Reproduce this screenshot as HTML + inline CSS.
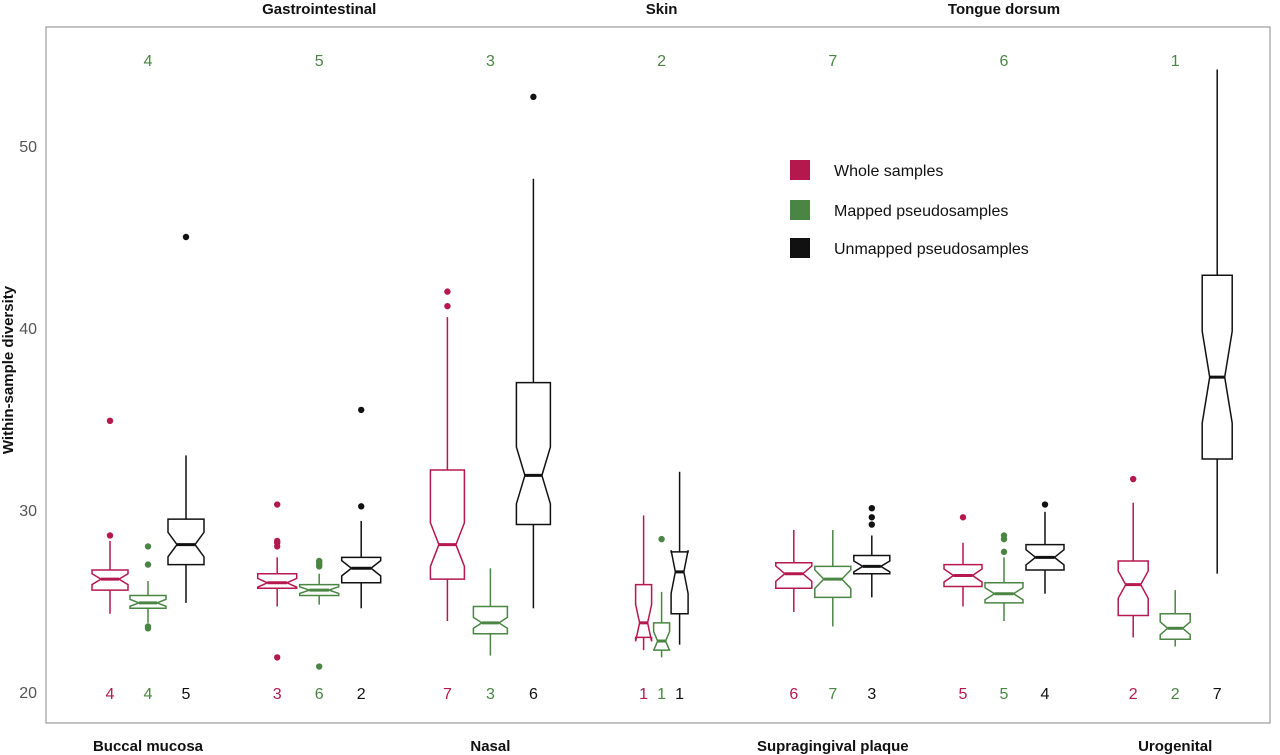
<!DOCTYPE html>
<html><head><meta charset="utf-8"><style>
body{margin:0;background:#fff;font-family:"Liberation Sans",sans-serif}
svg{display:block}
</style></head><body>
<svg id="chart" width="1280" height="755" xmlns="http://www.w3.org/2000/svg" font-family="Liberation Sans, sans-serif">
<rect x="46" y="27" width="1224" height="696" fill="#fff" stroke="#888" stroke-width="1"/>
<g id="axis"></g><g id="marks"></g><g id="labels"></g>
<g>
<rect x="790" y="160" width="20" height="20" fill="#b5184c"/>
<text x="834" y="176" font-size="16" fill="#111">Whole samples</text>
<rect x="790" y="200" width="20" height="20" fill="#4a8543"/>
<text x="834" y="216" font-size="16" fill="#111">Mapped pseudosamples</text>
<rect x="790" y="238" width="20" height="20" fill="#111"/>
<text x="834" y="254" font-size="16" fill="#111">Unmapped pseudosamples</text>
</g>
<text transform="translate(13,370) rotate(-90)" text-anchor="middle" font-size="15" font-weight="bold" fill="#111">Within-sample diversity</text>
</svg>
<script>
const categories=["Buccal mucosa","Gastrointestinal","Nasal","Skin","Supragingival plaque","Tongue dorsum","Urogenital"];
const topRanks=[4,5,3,2,7,6,1];
const rankWhole=[4,3,7,1,6,5,2];
const rankMapped=[4,6,3,1,7,5,2];
const rankUnmapped=[5,2,6,1,3,4,7];
// [whiskerLow, q1, median, q3, whiskerHigh]
const whole=[[24.3,25.6,26.2,26.7,28.3],[24.7,25.7,26.0,26.5,27.4],[23.9,26.2,28.1,32.2,40.6],[22.3,23.0,23.8,25.9,29.7],[24.4,25.7,26.5,27.1,28.9],[24.7,25.8,26.4,27.0,28.2],[23.0,24.2,25.9,27.2,30.4]];
const mapped=[[23.8,24.6,24.9,25.3,26.1],[24.8,25.3,25.6,25.9,26.5],[22.0,23.2,23.8,24.7,26.8],[21.9,22.3,22.8,23.8,25.5],[23.6,25.2,26.2,26.9,28.9],[23.9,24.9,25.4,26.0,27.4],[22.5,22.9,23.5,24.3,25.6]];
const unmapped=[[24.9,27.0,28.1,29.5,33.0],[24.6,26.0,26.8,27.4,29.4],[24.6,29.2,31.9,37.0,48.2],[22.6,24.3,26.6,27.7,32.1],[25.2,26.5,26.9,27.5,28.6],[25.4,26.7,27.4,28.1,29.9],[26.5,32.8,37.3,42.9,54.2]];
const outWhole=[[28.6,34.9],[21.9,28.0,28.2,28.3,30.3],[41.2,42.0],[],[],[29.6],[31.7]];
const outMapped=[[23.5,23.6,27.0,28.0],[21.4,26.9,27.0,27.1,27.2],[],[28.4],[],[27.7,28.4,28.6],[]];
const outUnmapped=[[45.0],[30.2,35.5],[52.7],[],[29.2,29.6,30.1],[30.3],[]];
const yTicks=[20,30,40,50];
const boxW=[36,39,34,16,36,38,30];
const spread=[38,42,43,18,39,41,42];
const notchFrac=[0.27,0.3,0.2,0.35,0.3,0.3,0.25];

const NS="http://www.w3.org/2000/svg";
const yS=v=>692-(v-20)*18.2;
const xS=i=>148+i*171.2;
function mk(p,t,a){const e=document.createElementNS(NS,t);for(const k in a)e.setAttribute(k,a[k]);p.appendChild(e);return e;}
const ax=document.getElementById('axis'),mg=document.getElementById('marks'),lb=document.getElementById('labels');
yTicks.forEach(t=>{
 const tx=mk(ax,'text',{x:37,y:yS(t)+6,'text-anchor':'end','font-size':16,fill:'#555'});tx.textContent=t;
 
 
});
const series=[[whole,outWhole,'#b5184c','whole',rankWhole],[mapped,outMapped,'#4a8543','mapped',rankMapped],[unmapped,outUnmapped,'#111','unmapped',rankUnmapped]];
categories.forEach((c,i)=>{
 const cx=xS(i);
 const tl=mk(lb,'text',{x:cx,y:i%2?14:751,'text-anchor':'middle','font-size':15,'font-weight':'bold',fill:'#111'});tl.textContent=c;
 
 
 const tr=mk(lb,'text',{x:cx,y:66,'text-anchor':'middle','font-size':16,fill:'#4a8543'});tr.textContent=topRanks[i];
 
 
 series.forEach((s,k)=>{
  const d=s[0][i],col=s[2],x=cx+(k-1)*spread[i],w=boxW[i]+(k==2&&i==3?1:0),h=w/2;
  const [lo,q1,md,q3,hi]=d.map(yS);
  const nf=notchFrac[i]*(d[3]-d[1])*18.2;
  const g=mk(mg,'g',{});
  
  
  mk(g,'line',{x1:x,x2:x,y1:hi,y2:q3,stroke:col,'stroke-width':1.5});
  mk(g,'line',{x1:x,x2:x,y1:q1,y2:lo,stroke:col,'stroke-width':1.5});
  const nt=md-nf,nb=md+nf;
  mk(g,'path',{d:`M${x-h},${q3}H${x+h}V${nt}L${x+h/2},${md}L${x+h},${nb}V${q1}H${x-h}V${nb}L${x-h/2},${md}L${x-h},${nt}Z`,fill:'#fff',stroke:col,'stroke-width':1.5});
  mk(g,'line',{x1:x-h/2,x2:x+h/2,y1:md,y2:md,stroke:col,'stroke-width':3});
  s[1][i].forEach(o=>{const p=mk(g,'circle',{cx:x,cy:yS(o),r:3.2,fill:col});
   
   });
  const r=mk(lb,'text',{x:x,y:699,'text-anchor':'middle','font-size':16,fill:col});r.textContent=s[4][i];
  
  
 });
});
</script>
</body></html>
